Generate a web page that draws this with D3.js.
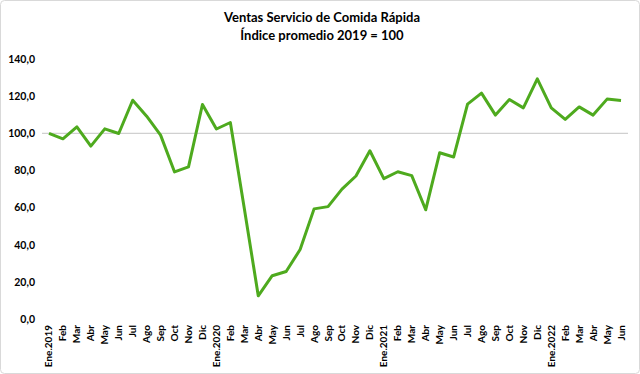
<!DOCTYPE html>
<html>
  <head>
    <meta charset="utf-8">
    <title>Ventas Servicio de Comida Rápida</title>
    <script src="https://cdn.jsdelivr.net/npm/d3@7"></script>
    <style>
      body { margin: 0; background: #fff; }
      text { font-family: Lato, "Open Sans", sans-serif; }
    </style>
  </head>
  <body>
    <svg width="640" height="374" id="mainsvg"></svg>
    <script>
      const months = ["Ene.2019","Feb","Mar","Abr","May","Jun","Jul","Ago","Sep","Oct","Nov","Dic",
        "Ene.2020","Feb","Mar","Abr","May","Jun","Jul","Ago","Sep","Oct","Nov","Dic",
        "Ene.2021","Feb","Mar","Abr","May","Jun","Jul","Ago","Sep","Oct","Nov","Dic",
        "Ene.2022","Feb","Mar","Abr","May","Jun"];
      const values = [100.0, 97.0, 103.5, 93.1, 102.4, 99.9, 117.8, 109.2, 99.0, 79.2, 81.9, 115.5,
        102.3, 105.8, 59.5, 12.5, 23.3, 25.6, 37.4, 59.3, 60.5, 69.9, 77.0, 90.6,
        75.6, 79.3, 77.2, 58.8, 89.5, 87.2, 115.7, 121.6, 109.8, 118.2, 113.7, 129.3,
        113.7, 107.5, 114.2, 109.8, 118.4, 117.7];
      const yTicks = [0, 20, 40, 60, 80, 100, 120, 140];
      const titleLines = ["Ventas Servicio de Comida Rápida", "Índice promedio 2019 = 100"];

      const svg = d3.select("#mainsvg");
      const width = +svg.attr("width");
      const height = +svg.attr("height");
      const margin = { top: 59, right: 12, bottom: 55, left: 42 };
      const innerWidth = width - margin.left - margin.right;
      const innerHeight = height - margin.top - margin.bottom;

      // marco del gráfico
      svg.append("rect")
        .attr("x", 0.5).attr("y", 0.5)
        .attr("width", width - 1).attr("height", height - 1)
        .attr("rx", 4)
        .attr("fill", "#fff")
        .attr("stroke", "#d9d9d9");

      const g = svg.append("g")
        .attr("transform", `translate(${margin.left}, ${margin.top})`);

      const idx = months.map((m, i) => i);
      const xScale = d3.scaleBand().domain(idx).range([0, innerWidth]);
      const yScale = d3.scaleLinear().domain([0, 140]).range([innerHeight, 0]);

      // línea de referencia en 100
      g.append("line")
        .attr("x1", 0).attr("x2", innerWidth)
        .attr("y1", yScale(100)).attr("y2", yScale(100))
        .attr("stroke", "#d0d0d0")
        .attr("stroke-width", 1.2);

      const yAxis = d3.axisLeft(yScale)
        .tickValues(yTicks)
        .tickSize(0)
        .tickPadding(7)
        .tickFormat(d => d3.format(".1f")(d).replace(".", ","));
      const yg = g.append("g").call(yAxis);
      yg.select(".domain").remove();
      yg.selectAll("text").attr("font-size", 10.5).attr("font-weight", "bold").attr("fill", "#000");

      const xAxis = d3.axisBottom(xScale).tickSize(0).tickFormat(i => months[i]);
      const xg = g.append("g")
        .attr("transform", `translate(0, ${innerHeight})`)
        .call(xAxis);
      xg.select(".domain").remove();
      xg.selectAll("text")
        .attr("font-size", 10)
        .attr("font-weight", "bold")
        .attr("fill", "#000")
        .attr("transform", "rotate(-90)")
        .attr("text-anchor", "end")
        .attr("x", -6)
        .attr("y", 0)
        .attr("dy", "0.35em");

      const line = d3.line()
        .x((d, i) => xScale(i) + xScale.bandwidth() / 2)
        .y(d => yScale(d));
      g.append("path")
        .datum(values)
        .attr("d", line)
        .attr("fill", "none")
        .attr("stroke", "#4eaa1e")
        .attr("stroke-width", 3)
        .attr("stroke-linejoin", "round");

      svg.selectAll(".title")
        .data(titleLines)
        .join("text")
        .attr("class", "title")
        .attr("x", width / 2 + 2)
        .attr("y", (d, i) => 22 + i * 18)
        .attr("text-anchor", "middle")
        .attr("font-size", 13)
        .attr("font-weight", "bold")
        .text(d => d);
    </script>
  </body>
</html>
